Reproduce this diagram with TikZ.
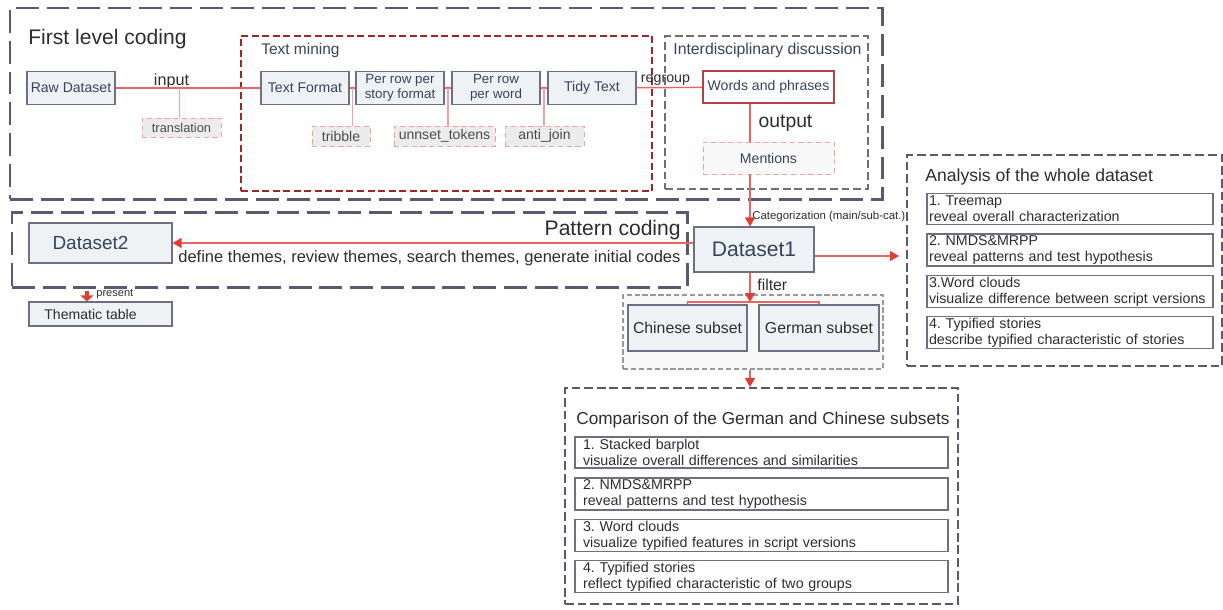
\documentclass[tikz,border=0pt]{standalone}
\usepackage{fontspec}
\setmainfont{Liberation Sans}
\usepackage{tikz}
\usetikzlibrary{arrows.meta,positioning,fit,calc}
\definecolor{framegray}{RGB}{92,88,115}
\definecolor{boxgray}{RGB}{112,110,130}
\definecolor{boxfill}{RGB}{238,242,245}
\definecolor{slate}{RGB}{52,68,92}
\definecolor{darktext}{RGB}{45,45,45}
\definecolor{darkred2}{RGB}{158,38,38}
\definecolor{wpred}{RGB}{170,70,70}
\definecolor{linered}{RGB}{236,100,95}
\definecolor{tapred}{RGB}{243,160,160}
\definecolor{arrowred}{RGB}{222,62,52}
\definecolor{toolfill}{RGB}{236,236,236}
\definecolor{palefill}{RGB}{249,249,249}
\definecolor{dashgray}{RGB}{110,110,115}
\newcommand{\fsz}[2]{\fontsize{#1}{#2}\selectfont}
\tikzset{
  bigframe/.style={draw=framegray, line width=1.7pt, dash pattern=on 13pt off 4.5pt, inner sep=0pt},
  minerframe/.style={draw=darkred2, line width=1pt, dash pattern=on 4pt off 2pt, inner sep=0pt},
  talkframe/.style={draw=dashgray, line width=1pt, dash pattern=on 4.5pt off 2.2pt, inner sep=0pt},
  resultframe/.style={draw=framegray, line width=1.1pt, dash pattern=on 5pt off 2.2pt, inner sep=0pt},
  subsetframe/.style={draw=dashgray!70, fill=palefill, line width=0.6pt, dash pattern=on 3pt off 1.5pt, inner sep=0pt},
  procbox/.style={draw=boxgray, fill=boxfill, line width=0.7pt, text=slate, align=center,
    inner sep=1pt, minimum width=17.6mm, minimum height=6.6mm, font=\fsz{8}{9}},
  toolbox/.style={draw=tapred, fill=toolfill, line width=0.5pt, densely dashed, text=darktext!85,
    inner sep=0pt, minimum height=4mm, font=\fsz{8}{9}},
  itembox/.style={draw=boxgray, fill=white, line width=0.7pt, align=left, text=darktext,
    minimum height=6.2mm, inner ysep=0.3mm, font=\fsz{8.1}{9.2}\frenchspacing},
  link/.style={draw=linered, line width=0.8pt},
  tapline/.style={draw=tapred, line width=0.6pt},
  flow/.style={link, -{Triangle[length=1.8mm, width=2mm, color=arrowred]}},
  fatflow/.style={draw=arrowred, line width=2.2pt, -{Triangle[length=1.2mm, width=2.6mm]}},
  lbl/.style={text=darktext, inner sep=0pt}
}

\begin{document}
\begin{tikzpicture}[x=0.02cm, y=-0.02cm]
\useasboundingbox (0,0) rectangle (1223,609);

\node[bigframe, fit={(10,8) (882,199)}] (flc) {};
\node[minerframe, fit={(241,36) (652,191)}] (tm) {};
\node[talkframe, fit={(665,36) (868,189)}] (idd) {};
\node[bigframe, fit={(12,212) (687,287)}] (pc) {};
\node[subsetframe, fit={(623,295) (883,369)}] (sub) {};
\node[resultframe, fit={(907,155) (1222,366)}] (whole) {};
\node[resultframe, fit={(565,388) (958,604)}] (cmp) {};

\node[lbl, anchor=west, font=\fsz{12}{14}] (flctitle) at (28,39) {First level coding};
\node[lbl, anchor=west, text=slate, font=\fsz{8.8}{10}] (tmtitle) at (261,50) {Text mining};
\node[lbl, anchor=west, text=slate, font=\fsz{9}{10}] (iddtitle) at (673,50) {Interdisciplinary discussion};
\node[lbl, anchor=east, font=\fsz{12}{14}] (pctitle) at (681,230) {Pattern coding};
\node[lbl, anchor=west, font=\fsz{10}{12}] (wholetitle) at (925,177) {Analysis of the whole dataset};
\node[lbl, anchor=west, font=\fsz{9.8}{12}] (cmptitle) at (576,420) {Comparison of the German and Chinese subsets};

\node[procbox] (raw) at (71,88) {Raw Dataset};
\node[procbox] (tf) at (305,88) {Text Format};
\node[procbox, font=\fsz{7.6}{8.6}] (prs) at (400,88) {Per row per\\story format};
\node[procbox, font=\fsz{7.6}{8.6}] (prw) at (496,88) {Per row\\per word};
\node[procbox] (tidy) at (592,88) {Tidy Text};
\node[procbox, fill=white, draw=wpred, line width=0.9pt, minimum width=26.2mm, minimum height=6.4mm] (wp) at (768.5,87) {Words and phrases};
\node[toolbox, fill=palefill, text=slate, minimum width=26.2mm, minimum height=6.4mm] (men) at (768.5,158) {Mentions};

\node[toolbox, minimum width=15.8mm, minimum height=3.8mm, font=\fsz{7.3}{8}] (trans) at (181.5,127.5) {translation};
\node[toolbox, minimum width=11.6mm] (trib) at (341,136) {tribble};
\node[toolbox, minimum width=20.2mm] (unn) at (444.5,136) {unnset\_tokens};
\node[toolbox, minimum width=15.8mm] (anti) at (544.5,136) {anti\_join};

\node[procbox, minimum width=24mm, minimum height=9mm, font=\fsz{12}{14}] (ds1) at (754,249.5) {Dataset1};
\node[procbox, minimum width=28.6mm, minimum height=8mm, font=\fsz{10.8}{12}, text width=24mm] (ds2) at (100.5,243) {Dataset2\hspace*{4mm}};
\node[procbox, minimum width=28.6mm, minimum height=4.8mm, text=darktext] (thema) at (100.5,314) {Thematic table\hspace*{4mm}};
\node[procbox, minimum width=23.8mm, minimum height=9.2mm, font=\fsz{9}{10}, text=darktext] (cn) at (687.5,328) {Chinese subset};
\node[procbox, minimum width=24mm, minimum height=9.2mm, font=\fsz{9}{10}, text=darktext] (de) at (819,328) {German subset};

\node[lbl, font=\fsz{9.2}{10}] (inlbl) at (171.5,81) {input};
\node[lbl, font=\fsz{8.1}{9}] (rglbl) at (665.5,80) {regroup};
\node[lbl, font=\fsz{11}{12}] (outlbl) at (785.5,123) {output};
\node[lbl, anchor=west, font=\fsz{9.4}{11}] (themes) at (178,258) {define themes, review themes, search themes, generate initial codes};
\node[lbl, anchor=west, font=\fsz{6.5}{7.5}] (catlbl) at (752,217) {Categorization (main/sub-cat.)};
\node[lbl, anchor=west, font=\fsz{9}{10}] (filtlbl) at (757,285) {filter};
\node[lbl, anchor=west, font=\fsz{6.3}{7}] (preslbl) at (96,294) {present};

\node[itembox, text width=56.4mm, inner xsep=0.4mm] (a1) at (1070,209) {1. Treemap\\reveal overall characterization};
\node[itembox, text width=56.4mm, inner xsep=0.4mm] (a2) at (1070,250) {2. NMDS\&MRPP\\reveal patterns and test hypothesis};
\node[itembox, text width=56.4mm, inner xsep=0.4mm] (a3) at (1070,291.5) {3.Word clouds\\visualize difference between script versions};
\node[itembox, text width=56.4mm, inner xsep=0.4mm] (a4) at (1070,332.5) {4. Typified stories\\describe typified characteristic of stories};

\node[itembox, text width=71.4mm, inner xsep=1.6mm] (c1) at (761.5,452.5) {1. Stacked barplot\\visualize overall differences and similarities};
\node[itembox, text width=71.4mm, inner xsep=1.6mm] (c2) at (761.5,494) {2. NMDS\&MRPP\\reveal patterns and test hypothesis};
\node[itembox, text width=71.4mm, inner xsep=1.6mm] (c3) at (761.5,535.5) {3. Word clouds\\visualize typified features in script versions};
\node[itembox, text width=71.4mm, inner xsep=1.6mm] (c4) at (761.5,576.5) {4. Typified stories\\reflect typified characteristic of two groups};

\coordinate (spine) at (750,0);
\coordinate (pres) at (87,0);
\coordinate (br) at (750,302);
\coordinate (t0) at ($(raw.east)!0.44!(tf.west)$);
\coordinate (t1) at ($(tf.east)!0.5!(prs.west)$);
\coordinate (t2) at ($(prs.east)!0.5!(prw.west)$);
\coordinate (t3) at ($(prw.east)!0.5!(tidy.west)$);
\coordinate (dsr) at ([yshift=-1.3mm]ds1.east);

\draw[link] (raw) -- (tf);
\draw[link] (tf) -- (prs);
\draw[link] (prs) -- (prw);
\draw[link] (prw) -- (tidy);
\draw[link] (tidy) -- (wp);
\draw[tapline] (t0) -- (t0 |- trans.north);
\draw[tapline] (t1) -- (t1 |- trib.north);
\draw[tapline] (t2) -- (t2 |- unn.north);
\draw[tapline] (t3) -- (t3 |- anti.north);
\draw[link] (wp.south -| spine) -- (men.north -| spine);
\draw[flow] (men.south -| spine) -- (ds1.north -| spine);
\draw[flow] (ds1.west |- ds2.east) -- (ds2.east);
\draw[flow, shorten >=1.4mm] (dsr) -- (dsr -| whole.west);
\draw[flow] (ds1.south -| spine) -- (br);
\draw[link] (cn.north) |- (br) -| (de.north);
\draw[flow] (sub.south -| spine) -- (cmp.north -| spine);
\draw[fatflow, shorten <=0.4mm] (pc.south -| pres) -- (thema.north -| pres);
\end{tikzpicture}
\end{document}
